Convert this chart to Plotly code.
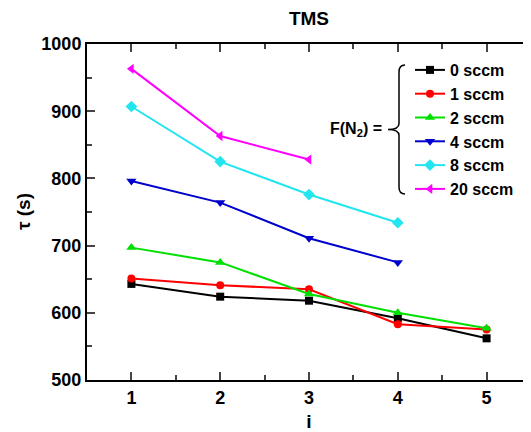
import plotly.graph_objects as go

# ---- data ----
i_vals = [1, 2, 3, 4, 5]
tau_0 = [643, 624, 618, 592, 562]
tau_1 = [651, 641, 635, 583, 575]
tau_2 = [697, 675, 628, 600, 577]
tau_4 = [796, 764, 711, 675]
tau_8 = [907, 825, 776, 734]
tau_20 = [963, 863, 828]
series_names = ["0 sccm", "1 sccm", "2 sccm", "4 sccm", "8 sccm", "20 sccm"]

# page has an 8px body margin; work in screen pixels and convert
OFF = 8
W, H = 531 - OFF, 432 - OFF
PL, PR, PT, PB = 87, 531, 44, 380          # plot area in screen pixels
ML, MR, MT, MB = PL - OFF, W - (PR - OFF), PT - OFF, H - (PB - OFF)
PW, PH = W - ML - MR, H - MT - MB

FONT = "Arial, Liberation Sans, sans-serif"

def s2paper(x, y):
    return (x - PL) / (PR - PL), (PB - y) / (PB - PT)

styles = [
    ("#000000", "square", 8),
    ("#ff0000", "circle", 8),
    ("#00e000", "triangle-up", 9),
    ("#0000cc", "triangle-down", 9),
    ("#22e5f0", "diamond", 9),
    ("#ff00ff", "triangle-left", 9),
]
data = [tau_0, tau_1, tau_2, tau_4, tau_8, tau_20]

fig = go.Figure()
for name, ys, (col, sym, sz) in zip(series_names, data, styles):
    fig.add_trace(go.Scatter(
        x=i_vals[:len(ys)], y=ys, name=name, mode="lines+markers",
        line=dict(color=col, width=2),
        marker=dict(color=col, symbol=sym, size=sz),
    ))

# brace path (screen pixels)
top, mid, bot = 65, 129.5, 194
xr, xv, xt = 405, 399, 388
pts = [(xr, top), (xv, top + 7), (xv, mid - 6), (xt, mid), (xv, mid + 6), (xv, bot - 7), (xr, bot)]
p = [s2paper(*q) for q in pts]
path = (f"M {p[0][0]},{p[0][1]} Q {p[1][0]},{p[0][1]} {p[1][0]},{p[1][1]} "
        f"L {p[2][0]},{p[2][1]} Q {p[2][0]},{p[3][1]} {p[3][0]},{p[3][1]} "
        f"Q {p[4][0]},{p[3][1]} {p[4][0]},{p[4][1]} "
        f"L {p[5][0]},{p[5][1]} Q {p[5][0]},{p[6][1]} {p[6][0]},{p[6][1]}")
fig.add_shape(type="path", path=path, xref="paper", yref="paper",
              line=dict(color="black", width=1.5))

ax, ay = s2paper(384, mid)
fig.add_annotation(text="<b>F(N<sub>2</sub>) =</b>", x=ax, y=ay, xref="paper", yref="paper",
                   xanchor="right", yanchor="middle", showarrow=False,
                   font=dict(family=FONT, size=16, color="black"))

# y title as annotation
tx, ty = s2paper(23, 212)
fig.add_annotation(text="<b>τ (s)</b>", x=tx, y=ty, xref="paper", yref="paper",
                   xanchor="center", yanchor="middle", textangle=-90, showarrow=False,
                   font=dict(family=FONT, size=19, color="black"))

lx, ly = s2paper(410, 53)
fig.update_layout(
    width=W, height=H,
    margin=dict(l=ML, r=MR, t=MT, b=MB, autoexpand=False),
    paper_bgcolor="white", plot_bgcolor="white",
    font=dict(family=FONT, color="black"),
    title=dict(text="<b>TMS</b>", x=(ML + PW / 2) / W, xanchor="center",
               y=1 - (18 - OFF) / H, yanchor="middle",
               font=dict(size=19, family=FONT)),
    showlegend=True,
    legend=dict(x=lx, y=ly, xanchor="left", yanchor="top", bgcolor="rgba(0,0,0,0)",
                font=dict(size=16, family=FONT, weight="bold"), tracegroupgap=0,
                itemwidth=30, borderwidth=0),
    xaxis=dict(range=[0.5, 5.5], tickvals=i_vals, ticks="inside", ticklen=8, tickwidth=2,
               showline=True, linewidth=2, linecolor="black", mirror="ticks", showgrid=False,
               zeroline=False,
               minor=dict(ticks="inside", ticklen=5, tickwidth=2, dtick=0.5, tick0=0.5, showgrid=False),
               tickfont=dict(size=18, family=FONT, weight="bold"),
               title=dict(text="<b>i</b>", font=dict(size=19, family=FONT), standoff=20)),
    yaxis=dict(range=[500, 1000], dtick=100, ticks="inside", ticklen=8, tickwidth=2,
               showline=True, linewidth=2, linecolor="black", showgrid=False, zeroline=False,
               minor=dict(ticks="inside", ticklen=5, tickwidth=2, dtick=50, showgrid=False),
               tickfont=dict(size=18, family=FONT, weight="bold")),
)

fig.write_html("out.html")
